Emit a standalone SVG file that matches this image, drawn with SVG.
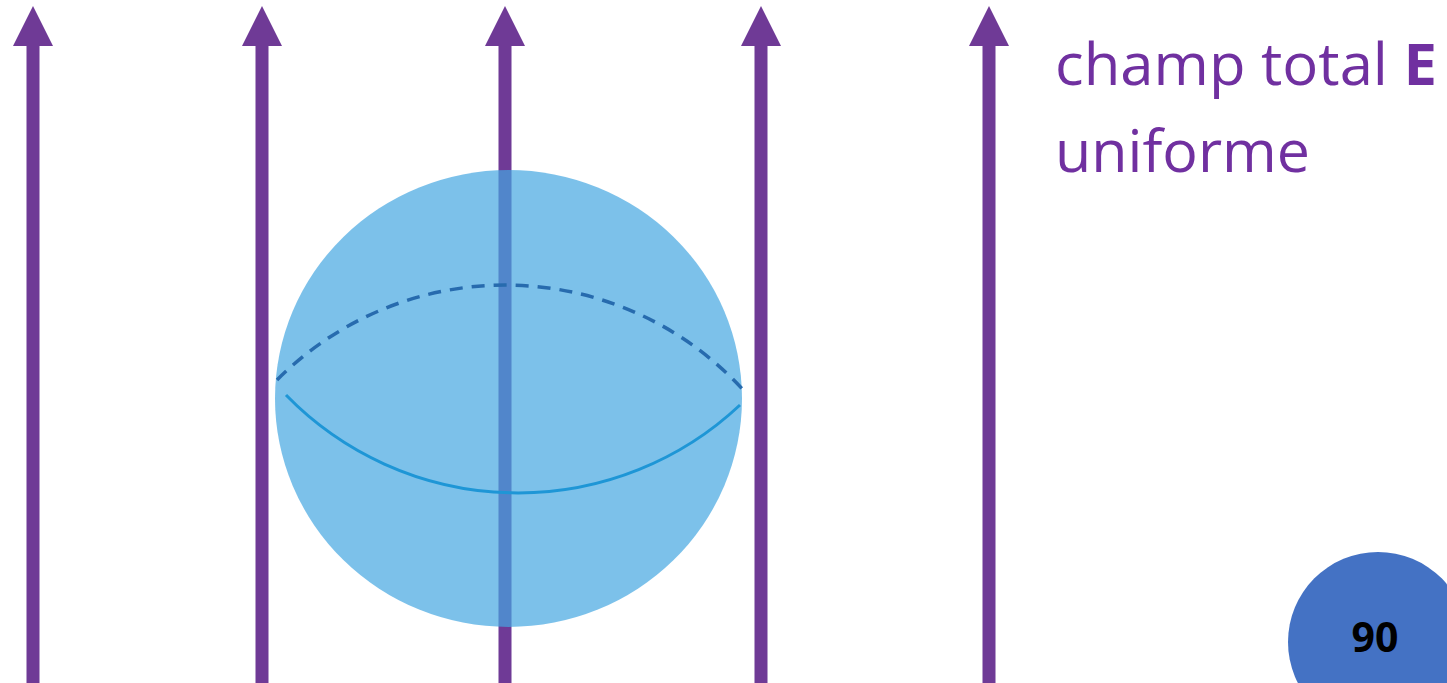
<svg xmlns="http://www.w3.org/2000/svg" width="1447" height="683" viewBox="0 0 1447 683">
<defs>
<style>
.shaft{stroke:#6F3A96;stroke-width:13;fill:none}
.head{fill:#6F3A96}
.lbl{font-family:"Open Sans","Liberation Sans",sans-serif;fill:#7030A0;font-size:58px;font-weight:500}
</style>
</defs>
<rect width="1447" height="683" fill="#ffffff"/>
<g id="field-lines">
<g id="arrow1"><line class="shaft" x1="33" y1="683" x2="33" y2="40"/><polygon class="head" points="33,6 13,46 53,46"/></g>
<g id="arrow2"><line class="shaft" x1="262" y1="683" x2="262" y2="40"/><polygon class="head" points="262,6 242,46 282,46"/></g>
<g id="arrow3"><line class="shaft" x1="505" y1="683" x2="505" y2="40"/><polygon class="head" points="505,6 485,46 525,46"/></g>
<g id="arrow4"><line class="shaft" x1="761" y1="683" x2="761" y2="40"/><polygon class="head" points="761,6 741,46 781,46"/></g>
<g id="arrow5"><line class="shaft" x1="989" y1="683" x2="989" y2="40"/><polygon class="head" points="989,6 969,46 1009,46"/></g>
</g>
<g id="sphere">
<ellipse cx="508.5" cy="398.5" rx="233.5" ry="228.5" fill="#45A6E1" fill-opacity="0.7"/>
<path d="M277,380 A322,322 0 0 1 745,392" fill="none" stroke="#276BAE" stroke-width="3.5" stroke-dasharray="13,9"/>
<path d="M286,395 A324,324 0 0 0 740,405" fill="none" stroke="#1E96D6" stroke-width="3"/>
</g>
<g id="label">
<text class="lbl" x="1055" y="85" textLength="382" lengthAdjust="spacingAndGlyphs">champ total <tspan font-weight="bold">E</tspan></text>
<text class="lbl" x="1055" y="172" textLength="255" lengthAdjust="spacingAndGlyphs">uniforme</text>
</g>
<g id="badge">
<circle cx="1378" cy="642" r="90" fill="#4472C4"/>
<text x="1375" y="652" text-anchor="middle" font-family="Open Sans, Liberation Sans, sans-serif" font-weight="bold" font-size="41" fill="#000000">90</text>
</g>
</svg>
